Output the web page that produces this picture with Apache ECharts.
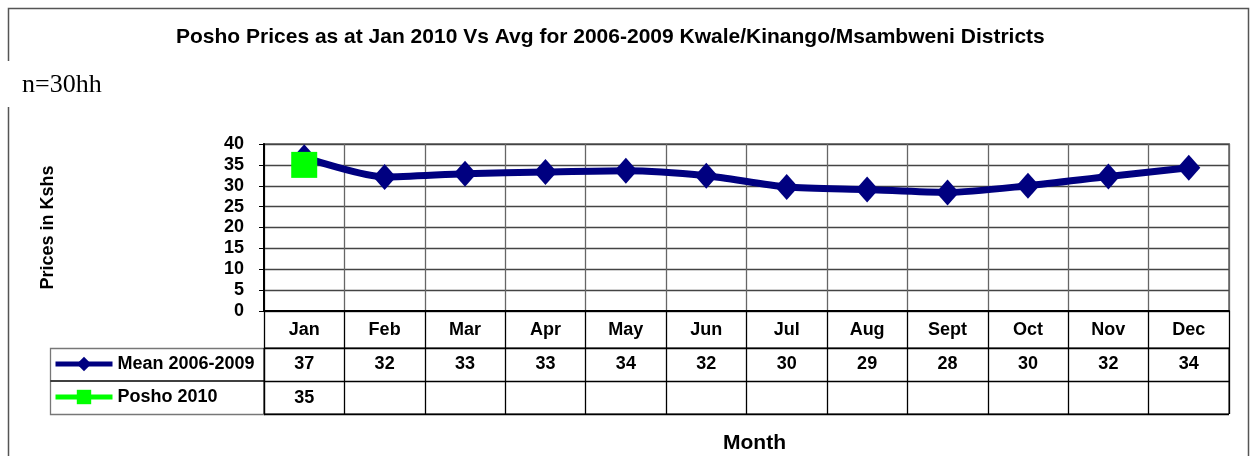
<!DOCTYPE html>
<html>
<head>
<meta charset="utf-8">
<script src="https://cdn.jsdelivr.net/npm/echarts@6/dist/echarts.min.js"></script>
<style>
  html, body { margin: 0; padding: 0; background: #fff; }
  #chart { width: 1254px; height: 456px; }
</style>
</head>
<body>
<div id="chart"></div>
<script>
// months along the x axis / table columns
const MONTHS = ['Jan', 'Feb', 'Mar', 'Apr', 'May', 'Jun', 'Jul', 'Aug', 'Sept', 'Oct', 'Nov', 'Dec']
// line values (table shows them rounded)
const MEAN_0609 = [36.8, 32.1, 32.9, 33.3, 33.6, 32.4, 29.7, 29.1, 28.4, 30.0, 32.2, 34.3]
const POSHO_2010 = [35, null, null, null, null, null, null, null, null, null, null, null]
const ROWS = ['Mean 2006-2009', 'Posho 2010']
const Y_MIN = 0, Y_MAX = 40, Y_STEP = 5

const FONT = 'Liberation Sans, Arial, sans-serif'
const NAVY = '#000080'
const GREEN = '#00ff00'
const CELL_TEXT = { fontSize: 18, fontWeight: 'bold', color: '#000' }

/* table row: one axis label per month, showing the rounded value */
function tableRow (values, position) {
  return {
    gridIndex: 1, type: 'category', data: MONTHS, boundaryGap: true, position,
    axisLine: { show: false }, axisTick: { show: false },
    axisLabel: Object.assign({
      inside: true, interval: 0, margin: 7,
      formatter: (v, i) => values[i] == null ? '' : String(Math.round(values[i]))
    }, CELL_TEXT),
    splitLine: { show: position === 'top', interval: 0, lineStyle: { color: '#000', width: 1.3 } }
  }
}

const chart = echarts.init(document.getElementById('chart'))

chart.setOption({
  animation: false,
  textStyle: { fontFamily: FONT },
  title: {
    text: 'Posho Prices as at Jan 2010 Vs Avg for 2006-2009 Kwale/Kinango/Msambweni Districts',
    left: 171, top: 22,
    textStyle: { fontSize: 21, fontWeight: 'bold', color: '#000', fontFamily: FONT }
  },
  legend: {
    data: ROWS,
    orient: 'vertical',
    left: 48, top: 350,
    itemWidth: 57, itemHeight: 18, itemGap: 15,
    textStyle: { fontSize: 18, fontWeight: 'bold', color: '#000', lineHeight: 18 },
    lineStyle: { width: 5 },
    selectedMode: false
  },
  grid: [
    /* plot area */
    { left: 264, right: 25, top: 144, height: 167, show: true, borderColor: '#888', borderWidth: 2 },
    /* data table below */
    { left: 264, right: 25, top: 348, height: 66, show: true, borderColor: '#000', borderWidth: 1 }
  ],
  xAxis: [
    {
      gridIndex: 0, type: 'category', data: MONTHS, boundaryGap: true,
      axisLine: { lineStyle: { color: '#000', width: 2 } },
      axisTick: { show: true, interval: 0, length: 37, lineStyle: { color: '#000', width: 1.3 } },
      axisLabel: Object.assign({ interval: 0, margin: 10 }, CELL_TEXT),
      splitLine: { show: true, interval: 0, lineStyle: { color: '#666', width: 1.3 } }
    },
    tableRow(MEAN_0609, 'top'),
    Object.assign(tableRow(POSHO_2010, 'bottom'), {
      name: 'Month', nameLocation: 'middle', nameGap: 19,
      nameTextStyle: { fontSize: 21, fontWeight: 'bold', color: '#000', padding: [0, 0, 0, 16] }
    })
  ],
  yAxis: [
    {
      gridIndex: 0, type: 'value', min: Y_MIN, max: Y_MAX, interval: Y_STEP,
      name: 'Prices in Kshs', nameLocation: 'middle', nameGap: 207, nameRotate: 90,
      nameTextStyle: { fontSize: 18, fontWeight: 'bold', color: '#000' },
      axisLine: { show: true, lineStyle: { color: '#000', width: 2 } },
      axisTick: { show: true, length: 5, lineStyle: { color: '#000' } },
      axisLabel: { margin: 20, fontSize: 18, fontWeight: 'bold', color: '#000' },
      splitLine: { show: true, lineStyle: { color: '#444', width: 1.3 } }
    },
    {
      gridIndex: 1, type: 'category', data: ROWS, inverse: true,
      axisLine: { show: false }, axisTick: { show: false }, axisLabel: { show: false },
      splitLine: { show: true, interval: 0, lineStyle: { color: '#000', width: 1.3 } }
    }
  ],
  series: [
    {
      name: ROWS[0], type: 'line', xAxisIndex: 0, yAxisIndex: 0,
      data: MEAN_0609, smooth: 0.25,
      symbol: 'diamond', symbolSize: [23, 26],
      lineStyle: { color: NAVY, width: 7 },
      itemStyle: { color: NAVY },
      z: 3
    },
    {
      name: ROWS[1], type: 'line', xAxisIndex: 0, yAxisIndex: 0,
      data: POSHO_2010,
      symbol: 'rect', symbolSize: 26,
      lineStyle: { color: GREEN, width: 5 },
      itemStyle: { color: GREEN },
      z: 4
    }
  ],
  graphic: [
    /* outer frame */
    { type: 'rect', z: -10, shape: { x: 8.5, y: 8.5, width: 1240, height: 470 },
      style: { fill: null, stroke: '#555', lineWidth: 1.5 } },
    /* gap in the frame behind the sample note */
    { type: 'rect', z: -9, shape: { x: 0, y: 61, width: 30, height: 46 },
      style: { fill: '#fff' } },
    { type: 'text', z: 5, left: 22, top: 72,
      style: { text: 'n=30hh', font: '26px "Liberation Serif", "Times New Roman", serif', fill: '#000' } },
    /* legend column of the data table */
    { type: 'rect', z: -5, shape: { x: 50.5, y: 348.5, width: 214, height: 66 },
      style: { fill: null, stroke: '#777', lineWidth: 1.3 } },
    { type: 'line', z: -5, shape: { x1: 50.5, y1: 381, x2: 264, y2: 381 },
      style: { stroke: '#000', lineWidth: 1.3 } }
  ]
})
</script>
</body>
</html>
